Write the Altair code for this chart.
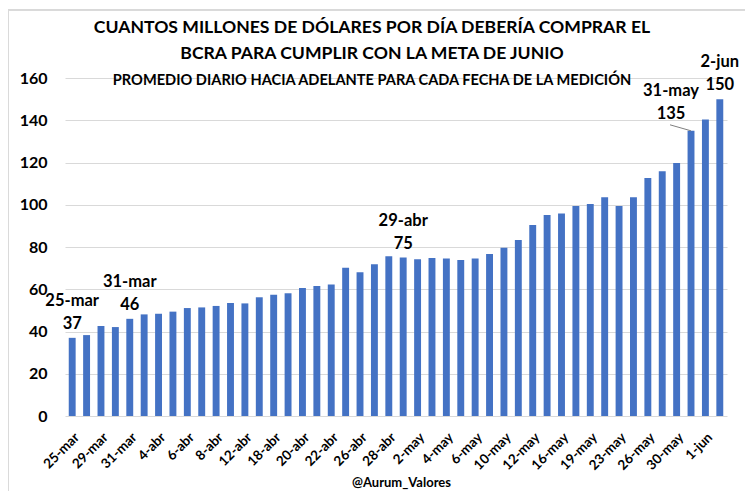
import altair as alt
import pandas as pd

dates = ["25-mar", "26-mar", "29-mar", "30-mar", "31-mar", "1-abr", "4-abr", "5-abr",
         "6-abr", "7-abr", "8-abr", "9-abr", "12-abr", "14-abr", "18-abr", "19-abr",
         "20-abr", "21-abr", "22-abr", "23-abr", "26-abr", "27-abr", "28-abr", "29-abr",
         "2-may", "3-may", "4-may", "5-may", "6-may", "7-may", "10-may", "11-may",
         "12-may", "13-may", "16-may", "17-may", "19-may", "20-may", "23-may", "24-may",
         "26-may", "27-may", "30-may", "31-may", "1-jun", "2-jun"]
values = [37, 38.3, 42.6, 42.1, 46, 48.1, 48.4, 49.4,
          51.1, 51.4, 52.1, 53.5, 53.3, 56.2, 57.4, 58.1,
          60.6, 61.5, 62.3, 70.2, 68.0, 71.8, 75.6, 75,
          74.2, 74.8, 74.5, 73.8, 74.5, 76.7, 79.6, 83.3,
          90.4, 95.1, 95.9, 99.4, 100.4, 103.5, 99.4, 103.5,
          112.7, 115.8, 119.8, 135, 140.4, 150]
tick_labels = dates[0::2]
y_ticks = [0, 20, 40, 60, 80, 100, 120, 140, 160]
annotated = ["25-mar", "31-mar", "29-abr", "2-jun"]
annotated_offset = ["31-may"]

title_lines = ["CUANTOS MILLONES DE DÓLARES POR DÍA DEBERÍA COMPRAR EL",
               "BCRA PARA CUMPLIR CON LA META DE JUNIO"]
subtitle = "PROMEDIO DIARIO HACIA ADELANTE PARA CADA FECHA DE LA MEDICIÓN"
footer = "@Aurum_Valores"

FONT = "Lato"
df = pd.DataFrame({"fecha": dates, "valor": values})
ann = df[df["fecha"].isin(annotated)]
ann2 = df[df["fecha"].isin(annotated_offset)]

x_enc = alt.X("fecha:N", sort=dates,
              scale=alt.Scale(paddingInner=0.52, paddingOuter=0.26),
              axis=alt.Axis(values=tick_labels, labelAngle=-45, labelFont=FONT,
                            labelFontSize=13.5, labelFontWeight="bold", labelColor="black",
                            labelPadding=14, title=footer, titleFont=FONT,
                            titleFontSize=13, titleFontWeight="bold", titleColor="black",
                            titleY=70, titleBaseline="alphabetic", titleX=336))
x_plain = alt.X("fecha:N", sort=dates)
y_enc = alt.Y("valor:Q", scale=alt.Scale(domain=[0, 160], nice=False),
              axis=alt.Axis(values=y_ticks, labelFont=FONT, labelFontSize=16,
                            labelFontWeight="bold", labelColor="black", labelPadding=18,
                            title=None, gridColor="#d9d9d9"))

bars = alt.Chart(df).mark_bar(color="#4472C4").encode(x=x_enc, y=y_enc)

date_txt = alt.Chart(ann).mark_text(font=FONT, fontSize=16.5, fontWeight="bold",
                                    baseline="alphabetic", dy=-32, color="black").encode(
    x=x_plain, y="valor:Q", text="fecha:N")
val_txt = alt.Chart(ann).mark_text(font=FONT, fontSize=16.5, fontWeight="bold",
                                   baseline="alphabetic", dy=-9, color="black").encode(
    x=x_plain, y="valor:Q", text=alt.Text("valor:Q", format=".0f"))

date_txt2 = alt.Chart(ann2).mark_text(font=FONT, fontSize=16.5, fontWeight="bold",
                                      baseline="alphabetic", dy=-35, dx=-20, color="black").encode(
    x=x_plain, y="valor:Q", text="fecha:N")
val_txt2 = alt.Chart(ann2).mark_text(font=FONT, fontSize=16.5, fontWeight="bold",
                                     baseline="alphabetic", dy=-12, dx=-20, color="black").encode(
    x=x_plain, y="valor:Q", text=alt.Text("valor:Q", format=".0f"))
leader = alt.Chart(ann2).mark_rule(color="#7f7f7f", strokeWidth=1, x2Offset=-21, y2Offset=-6).encode(
    x=x_plain, x2=alt.X2("fecha"), y="valor:Q", y2=alt.Y2("valor"))

border_left = alt.Chart(df).mark_rule(color="#d9d9d9", strokeWidth=1).encode(
    x=alt.value(-57), y=alt.value(-68), y2=alt.value(413))
border_top = alt.Chart(df).mark_rule(color="#d9d9d9", strokeWidth=1).encode(
    x=alt.value(-57), x2=alt.value(680), y=alt.value(-68))

chart = alt.layer(bars, date_txt, val_txt, date_txt2, val_txt2, leader,
                  border_left, border_top).properties(
    width=662, height=338,
    autosize=alt.AutoSizeParams(type="none"),
    padding={"left": 57, "top": 70, "right": 19, "bottom": 75},
    title=alt.TitleParams(text=title_lines, subtitle=subtitle, font=FONT, fontSize=17.6,
                          fontWeight="bold", color="black", lineHeight=26,
                          subtitleFont=FONT, subtitleFontSize=14.6,
                          subtitleFontWeight="bold", subtitleColor="black",
                          subtitlePadding=10, anchor="middle", frame="group",
                          dx=-24, offset=-78),
).configure_view(stroke=None).configure_axis(domain=False, ticks=False)

chart.save("out.html", embed_options={"renderer": "svg", "actions": False})
